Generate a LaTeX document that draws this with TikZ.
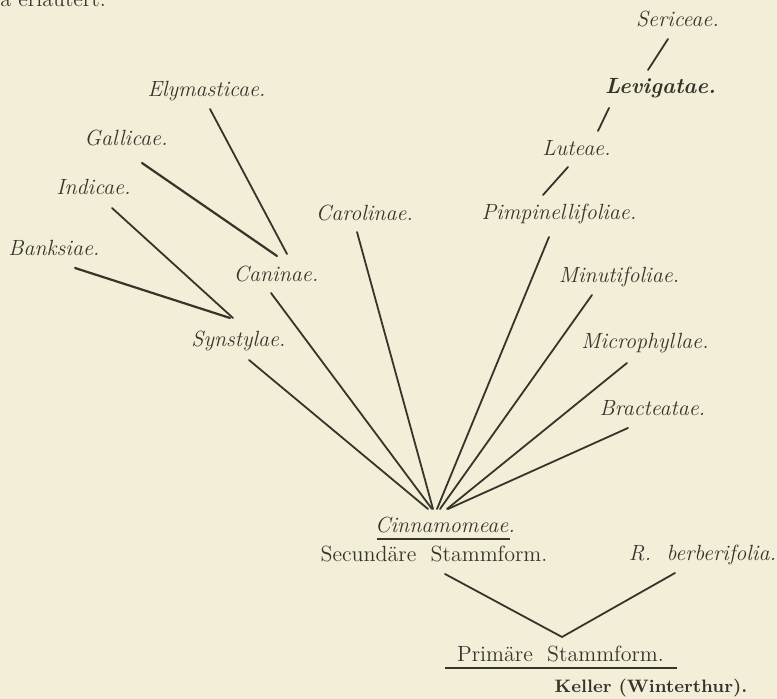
\documentclass[tikz,border=0pt]{standalone}
\usepackage{fontspec}
\definecolor{paper}{HTML}{F3EED7}
\definecolor{ink}{HTML}{35352C}
\tikzset{
  lab/.style={font=\fontsize{11}{13}\selectfont\itshape, text=ink, inner sep=0pt, anchor=base},
  blab/.style={font=\fontsize{11}{13}\selectfont\bfseries\itshape, text=ink, inner sep=0pt, anchor=base},
  rom/.style={font=\fontsize{11}{13}\selectfont, text=ink, inner sep=0pt, anchor=base},
  sig/.style={font=\fontsize{9}{11}\selectfont\bfseries, text=ink, inner sep=0pt, anchor=base},
  br/.style={draw=ink, line width=0.9pt, line cap=round},
  rule/.style={draw=ink, line width=1.1pt},
}
\begin{document}
\begin{tikzpicture}[x=0.5pt, y=-0.5pt]
\fill[paper] (0,0) rectangle (777,699);
\useasboundingbox (0,0) rectangle (777,699);
% cut-off text at top
\node[rom, anchor=base west] (top) at (0,7) {a erläutert.};
% labels
\node[lab] (seri) at (677.5,27) {Sericeae.};
\node[blab] (levi) at (660.5,94) {Levigatae.};
\node[lab] (lute) at (576.5,156) {Luteae.};
\node[lab] (pimp) at (559,220) {Pimpinellifoliae.};
\node[lab] (minu) at (619,283) {Minutifoliae.};
\node[lab] (caro) at (364.5,221) {Carolinae.};
\node[lab] (elym) at (206.5,97) {Elymasticae.};
\node[lab] (gall) at (126,146) {Gallicae.};
\node[lab] (indi) at (93.5,195) {Indicae.};
\node[lab] (bank) at (54,256) {Banksiae.};
\node[lab] (cani) at (276,282) {Caninae.};
\node[lab] (syns) at (238.5,347) {Synstylae.};
\node[lab] (micr) at (645,349) {Microphyllae.};
\node[lab] (brac) at (652.5,416) {Bracteatae.};
\node[lab] (cinn) at (445,533) {Cinnamomeae.};
\node[rom] (secu) at (434,562) {Secundäre\ \ Stammform.};
\node[lab] (berb) at (702.5,561) {R.\ \ berberifolia.};
\node[rom] (prim) at (560.5,662) {Primäre\ \ Stammform.};
\node[sig] (kell) at (651,693) {Keller (Winterthur).};
% connector end points
\coordinate (seriB) at (668,39);  \coordinate (leviT) at (648,70);
\coordinate (leviB) at (609,108); \coordinate (luteT) at (598,131);
\coordinate (luteB) at (568,167); \coordinate (pimpT) at (543,195);
\coordinate (elymB) at (210,109); \coordinate (caniT1) at (287,254);
\coordinate (gallB) at (142,163); \coordinate (caniT2) at (277,256);
\coordinate (indiB) at (112,208); \coordinate (synsT1) at (233,318);
\coordinate (bankB) at (75,268);  \coordinate (synsT2) at (230,318);
\coordinate (synsB) at (249,360); \coordinate (f1) at (428,509);
\coordinate (caniB) at (271,293); \coordinate (f2) at (432,509);
\coordinate (caroB) at (357,232); \coordinate (f3) at (433,509);
\coordinate (pimpB) at (549,237); \coordinate (f4) at (437,509);
\coordinate (minuB) at (592,295); \coordinate (f5) at (440,509);
\coordinate (micrB) at (627,363); \coordinate (f6) at (447,509);
\coordinate (bracB) at (628,428); \coordinate (f7) at (448,509);
\coordinate (secuB) at (445,574); \coordinate (apex) at (562,637);
\coordinate (berbB) at (675,573);
% connectors
\draw[br] (seriB) -- (leviT);
\draw[br] (leviB) -- (luteT);
\draw[br] (luteB) -- (pimpT);
\draw[br] (elymB) -- (caniT1);
\draw[br, line width=1.1pt] (gallB) -- (caniT2);
\draw[br] (indiB) -- (synsT1);
\draw[br, line width=1.1pt] (bankB) -- (synsT2);
\draw[br] (synsB) -- (f1);
\draw[br] (caniB) -- (f2);
\draw[br] (caroB) -- (f3);
\draw[br] (pimpB) -- (f4);
\draw[br] (minuB) -- (f5);
\draw[br] (micrB) -- (f6);
\draw[br] (bracB) -- (f7);
\draw[br] (secuB) -- (apex) -- (berbB);
% underlines
\coordinate (cu1) at (377,539); \coordinate (cu2) at (510,539);
\draw[rule] (cu1) -- (cu2);
\coordinate (pu1) at (445,668); \coordinate (pu2) at (677,668);
\draw[rule, line width=1.3pt] (pu1) -- (pu2);
\end{tikzpicture}
\end{document}
